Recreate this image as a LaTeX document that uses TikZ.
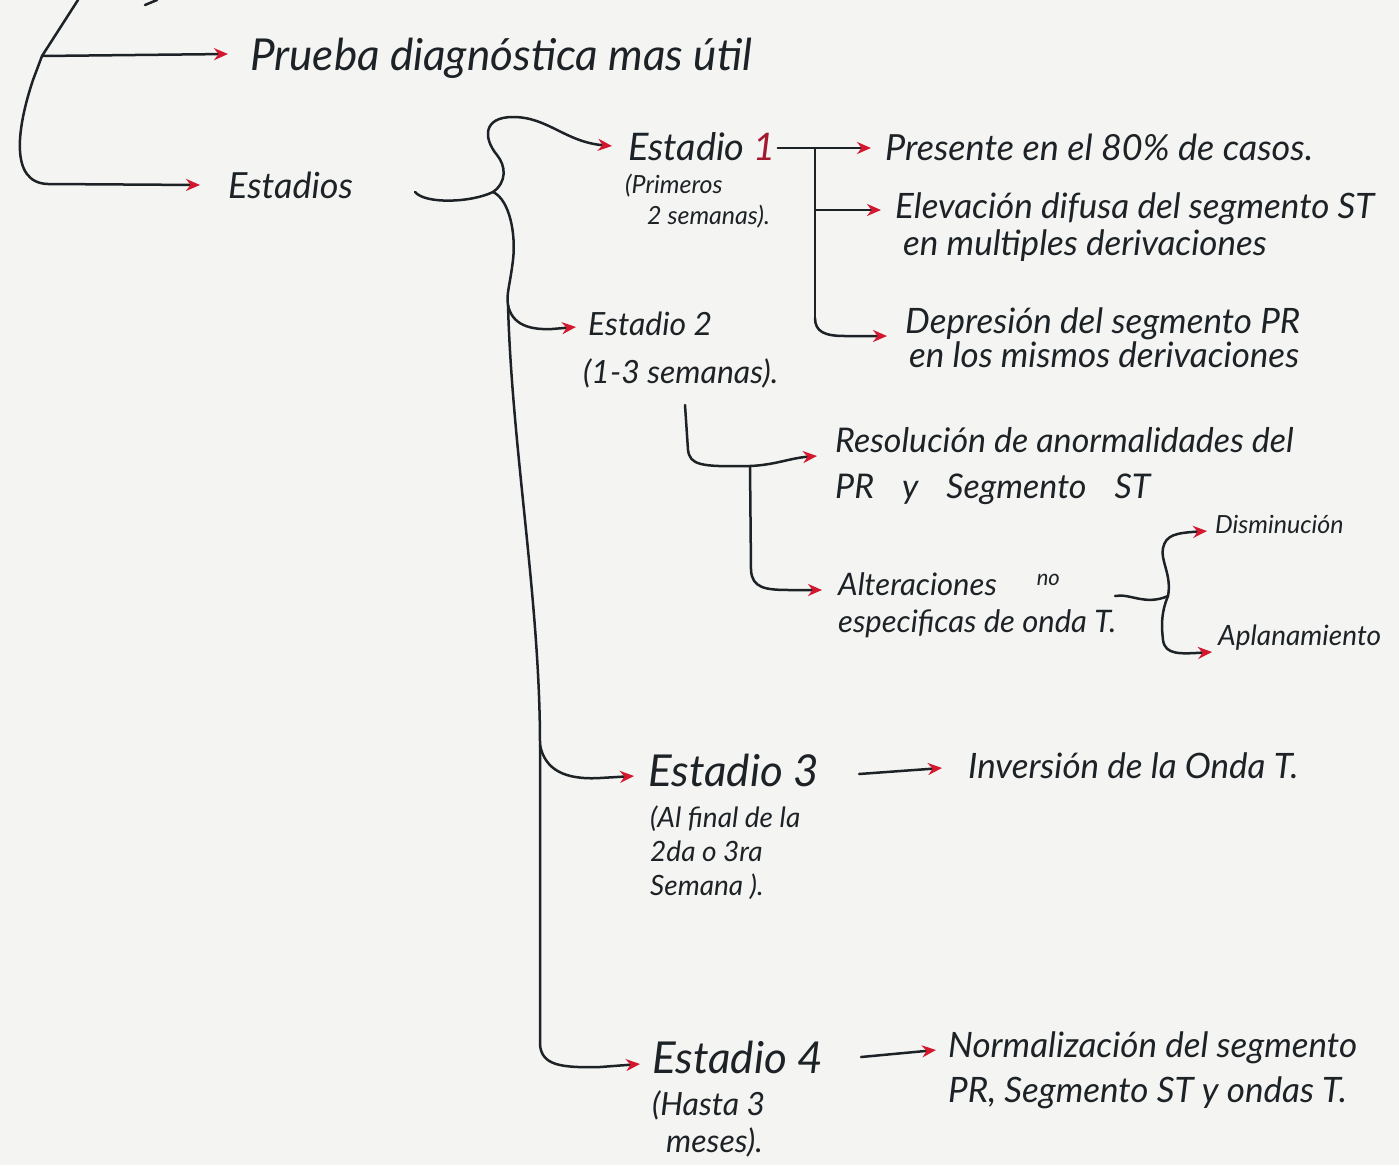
\documentclass[tikz,border=0pt]{standalone}
\usepackage{fontspec}
\setmainfont{Lato}
\usetikzlibrary{arrows.meta,calc}
\definecolor{ink}{HTML}{1C2226}
\definecolor{tipred}{HTML}{D3172E}
\definecolor{paper}{HTML}{F4F4F2}
\definecolor{wine}{HTML}{A3182C}
\newcommand\txtsize[2]{\fontsize{#1pt}{#2pt}\selectfont}
\tikzset{
  stroke/.style={draw=ink, line width=2.5pt, line cap=round, line join=round},
  arr/.style={stroke, -{Stealth[length=14pt,width=12pt,color=tipred,fill=tipred]}},
  lbl/.style={inner sep=0pt, text=ink, align=left, anchor=base west},
}
\begin{document}
\begin{tikzpicture}[x=1pt,y=-1pt]
\fill[paper] (0,0) rectangle (1399,1165);
\useasboundingbox (0,0) rectangle (1399,1165);

% labels (multi-line labels are placed by the baseline of their last line)
\node[lbl, font={\itshape\txtsize{44}{50}}] (prueba) at (250,70) {Prueba diagnóstica mas útil};
\node[lbl, font={\itshape\txtsize{36}{40}}] (estadios) at (228,198) {Estadios};
\node[lbl, font={\itshape\txtsize{38}{42}}] (e1) at (628,160) {Estadio \textcolor{wine}{1}};
\node[lbl, font={\itshape\txtsize{25}{31}}] (e1n) at (625,224) {(Primeros\\\hspace*{22pt}2 semanas).};
\node[lbl, font={\itshape\txtsize{36}{40}}] (p1) at (885,160) {Presente en el 80\% de casos.};
\node[lbl, font={\itshape\txtsize{35}{37}}] (p2) at (895,255) {Elevación difusa del segmento ST\\\hspace*{8pt}en multiples derivaciones};
\node[lbl, font={\itshape\txtsize{35}{32}}] (p3) at (905,367) {Depresión del segmento PR\\\hspace*{4pt}en los mismos derivaciones};
\node[lbl, font={\itshape\txtsize{32}{36}}] (e2) at (588,335) {Estadio 2};
\node[lbl, font={\itshape\txtsize{32}{36}}] (e2n) at (583,383) {(1-3 semanas).};
\node[lbl, font={\itshape\txtsize{34}{46}}] (r1) at (835,498) {Resolución de anormalidades del\\PR\hspace{28pt}y\hspace{28pt}Segmento\hspace{28pt}ST};
\node[lbl, font={\itshape\txtsize{31}{37}}] (r2) at (838,632) {Alteraciones\hspace{40pt}\raisebox{10pt}{\txtsize{22}{22}no}\\especificas de onda T.};
\node[lbl, font={\itshape\txtsize{25}{28}}] (t1) at (1215,533) {Disminución};
\node[lbl, font={\itshape\txtsize{28}{30}}] (t2) at (1218,645) {Aplanamiento};
\node[lbl, font={\itshape\txtsize{44}{48}}] (e3) at (648,786) {Estadio 3};
\node[lbl, font={\itshape\txtsize{28}{34}}] (e3n) at (650,895) {(Al final de la\\2da o 3ra\\Semana ).};
\node[lbl, font={\itshape\txtsize{35}{38}}] (s3) at (968,778) {Inversión de la Onda T.};
\node[lbl, font={\itshape\txtsize{44}{48}}] (e4) at (652,1073) {Estadio 4};
\node[lbl, font={\itshape\txtsize{32}{37}}] (e4n) at (652,1152) {(Hasta 3\\\hspace*{14pt}meses).};
\node[lbl, font={\itshape\txtsize{35}{45}}] (s4) at (948,1102) {Normalización del segmento\\PR, Segmento ST y ondas T.};

% root bracket
\coordinate (rtop) at (78,0);
\coordinate (rj) at (42,56);
\draw[stroke] (145,5) -- (157,0);
\draw[arr] (rj) -- ($(prueba.base west)+(-22,-16)$);
\draw[arr] (rtop) -- (rj) -- (33,80) .. controls (18,125) and (8,183) .. (48,184)
  -- ($(estadios.base west)+(-28,-13)$);

% brace after "Estadios"
\coordinate (bs) at (415,192);
\coordinate (bj) at (493,192);
\draw[stroke] (bs) .. controls (425,204) and (470,203) .. (bj);
\draw[arr] (bj) .. controls (507,182) and (506,166) .. (497,155)
  .. controls (483,138) and (483,117) .. (513,117)
  .. controls (548,117) and (565,142) .. ($(e1.base west)+(-16,-14)$);
\draw[stroke] (bj) .. controls (510,200) and (516,235) .. (513,260)
  .. controls (510,285) and (506,295) .. (508,305) coordinate (v1);
\draw[stroke] (v1) .. controls (512,450) and (540,600) .. (540,745) coordinate (v3) -- (540,1045) coordinate (v4);
\draw[arr] (v1) .. controls (512,325) and (530,330) .. (552,329) -- ($(e2.base west)+(-12,-8)$);
\draw[arr] (v3) .. controls (545,770) and (565,780) .. (600,778) -- ($(e3.base west)+(-14,-10)$);
\draw[arr] (v4) .. controls (542,1065) and (560,1068) .. (600,1067) -- ($(e4.base west)+(-12,-9)$);

% stage 1 findings
\coordinate (k1) at (815,148);
\draw[stroke] ($(e1.base east)+(2,-12)$) -- (k1);
\draw[arr] (k1) -- ($(p1.base west)+(-14,-12)$);
\draw[stroke] (k1) -- (815,318) coordinate (k1b);
\draw[arr] (815,210) -- ($(p2.base west)+(-14,-45)$);
\draw[arr] (k1b) .. controls (815,332) and (825,336) .. (845,336) -- ($(p3.base west)+(-18,-31)$);

% stage 2 findings
\coordinate (k2) at (750,466);
\draw[stroke] (685,405) -- (688,450) .. controls (690,465) and (700,467) .. (k2);
\draw[arr] (k2) .. controls (775,465) and (790,458) .. ($(r1.base west)+(-18,-42)$);
\draw[arr] (k2) -- (751,570) .. controls (752,588) and (765,590) .. (790,590) -- ($(r2.base west)+(-16,-42)$);

% T-wave brace
\coordinate (k3) at (1168,596);
\draw[stroke] (1115,596) .. controls (1130,593) and (1145,606) .. (k3);
\draw[arr] (k3) .. controls (1172,575) and (1160,560) .. (1163,548)
  .. controls (1166,535) and (1175,533) .. ($(t1.base west)+(-8,-2)$);
\draw[arr] (k3) .. controls (1160,615) and (1162,630) .. (1163,640)
  .. controls (1165,655) and (1180,654) .. ($(t2.base west)+(-6,7)$);

% stages 3 and 4
\draw[arr] ($(e3.base east)+(40,-12)$) -- ($(s3.base west)+(-26,-10)$);
\draw[arr] ($(e4.base east)+(38,-16)$) -- ($(s4.base west)+(-12,-52)$);
\end{tikzpicture}
\end{document}
